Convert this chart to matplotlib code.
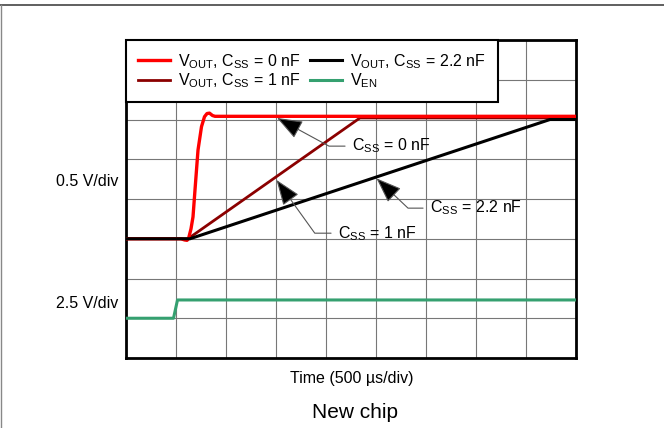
import matplotlib
matplotlib.use("Agg")
import matplotlib.pyplot as plt
from matplotlib.lines import Line2D

plt.rcParams['font.family'] = ['Liberation Sans', 'DejaVu Sans']
plt.rcParams['mathtext.fontset'] = 'custom'
plt.rcParams['mathtext.rm'] = 'Liberation Sans'
plt.rcParams['mathtext.it'] = 'Liberation Sans:italic'
plt.rcParams['mathtext.bf'] = 'Liberation Sans:bold'

# scope traces, in screen divisions (x: 500 us/div, y: grid divisions from bottom)
t_css0 = [0, 1.10, 1.17, 1.22, 1.25, 1.30, 1.34, 1.38, 1.44, 1.51, 1.57, 1.62, 1.67, 1.73, 1.78, 9.0]
v_css0 = [3.0, 3.0, 2.97, 2.96, 3.0, 3.25, 3.55, 4.23, 5.23, 5.82, 6.07, 6.15, 6.16, 6.10, 6.08, 6.08]

t_css1 = [0, 1.24, 4.68, 9.0]
v_css1 = [3.0, 3.0, 6.04, 6.04]

t_css22 = [0, 1.28, 8.48, 9.0]
v_css22 = [3.0, 3.0, 6.0, 6.0]

t_en = [0, 0.95, 1.03, 9.0]
v_en = [1.0, 1.0, 1.46, 1.46]

labels = [r'V$_{\mathrm{OUT}}$, C$_{\mathrm{SS}}$ = 0 nF',
          r'V$_{\mathrm{OUT}}$, C$_{\mathrm{SS}}$ = 1 nF',
          r'V$_{\mathrm{OUT}}$, C$_{\mathrm{SS}}$ = 2.2 nF',
          r'V$_{\mathrm{EN}}$']
colors = ['#ff0000', '#8b0000', '#000000', '#35a070']

fig = plt.figure(figsize=(6.64, 4.28), dpi=100)
ax = fig.add_axes([126/664, 70/428, 450/664, 318/428])

# page decoration lines
fig.add_artist(Line2D([0, 1], [1 - 4.5/428, 1 - 4.5/428], color='#444444', lw=1.2))
fig.add_artist(Line2D([0.5/664, 0.5/664], [0, 1 - 4.5/428], color='#888888', lw=1.0))

ax.set_xlim(0, 9)
ax.set_ylim(0, 8)
ax.set_xticks(range(10))
ax.set_yticks(range(9))
ax.tick_params(length=0, labelbottom=False, labelleft=False)
ax.grid(True, color='#777777', lw=0.8)
for s in ax.spines.values():
    s.set_linewidth(2.0)
    s.set_color('black')

h_en, = ax.plot(t_en, v_en, color=colors[3], lw=2.2, zorder=3)
h1, = ax.plot(t_css1, v_css1, color=colors[1], lw=2.0, zorder=4)
h0, = ax.plot(t_css0, v_css0, color=colors[0], lw=2.4, zorder=5)
h22, = ax.plot(t_css22, v_css22, color=colors[2], lw=2.2, zorder=6)

leg = ax.legend([h0, h1, h22, h_en], labels, ncol=2, loc='upper left',
                bbox_to_anchor=(0, 1), borderaxespad=0, fontsize=11.5,
                handlelength=2.0, handletextpad=0.5, columnspacing=0.6,
                labelspacing=0.05, borderpad=0.75, fancybox=False,
                framealpha=1, edgecolor='black')
leg.get_frame().set_linewidth(1.5)
leg.set_zorder(10)

# callouts
callouts = [
    (r'C$_{\mathrm{SS}}$ = 0 nF', (3.02, 6.04), (4.52, 5.33), -28.5),
    (r'C$_{\mathrm{SS}}$ = 1 nF', (3.01, 4.48), (4.24, 3.14), -54.3),
    (r'C$_{\mathrm{SS}}$ = 2.2 nF', (5.01, 4.52), (6.08, 3.77), -43.4),
]
for txt, tip, pos, ang in callouts:
    ax.annotate(txt, xy=tip, xytext=pos, fontsize=11.5, ha='left', va='center',
                zorder=8,
                arrowprops=dict(arrowstyle='-|>,head_length=1.6,head_width=0.6',
                                connectionstyle='angle,angleA=0,angleB=%g,rad=0' % ang,
                                facecolor='black', edgecolor='#555555', lw=0.8,
                                relpos=(0, 0.5), shrinkA=3, shrinkB=0,
                                mutation_scale=10))

fig.text(118/664, 1 - 181/428, '0.5 V/div', ha='right', va='center', fontsize=11.5)
fig.text(118/664, 1 - 303/428, '2.5 V/div', ha='right', va='center', fontsize=11.5)
fig.text(352/664, 1 - 378/428, 'Time (500 \u00b5s/div)', ha='center', va='center', fontsize=11.5)
fig.text(355/664, 1 - 413/428, 'New chip', ha='center', va='center', fontsize=15)

fig.savefig('out.png', dpi=100)
